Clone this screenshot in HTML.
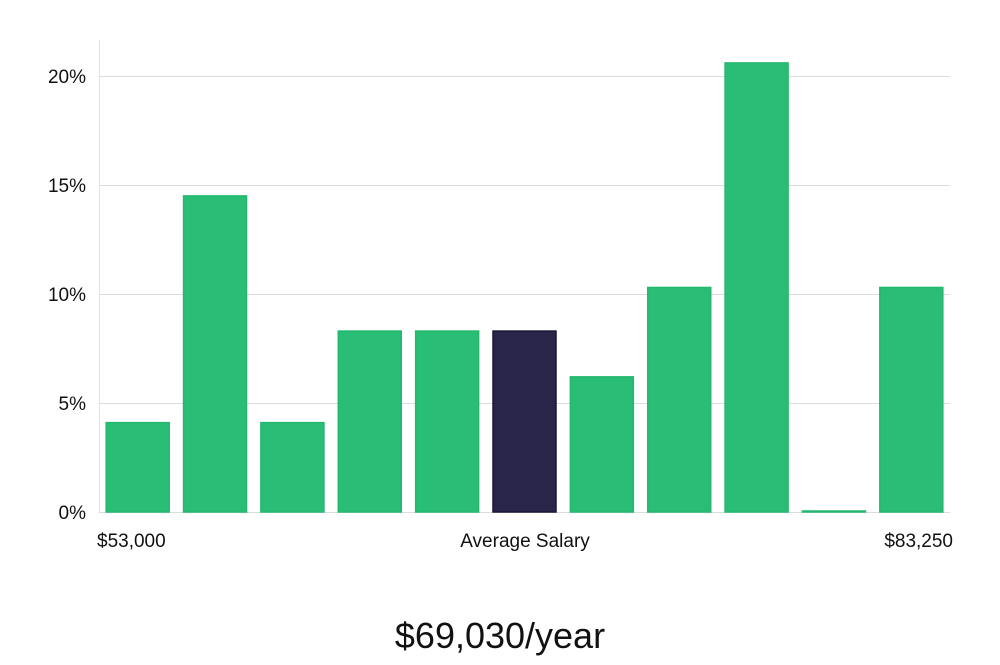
<!DOCTYPE html>
<html><head><meta charset="utf-8"><style>
body{margin:0;background:#fff;width:1000px;height:660px;overflow:hidden;font-family:"Liberation Sans","DejaVu Sans",sans-serif}
</style></head><body>
<svg width="1000" height="660" xmlns="http://www.w3.org/2000/svg">
<g id="grid"></g><g id="bars"></g><g id="labels"></g>
<line x1="99.5" y1="40" x2="99.5" y2="512" stroke="#e2e2e2"/>
<text x="97" y="547" font-size="19" fill="#111">$53,000</text>
<text x="525" y="547" font-size="19" fill="#111" text-anchor="middle">Average Salary</text>
<text x="953" y="547" font-size="19" fill="#111" text-anchor="end">$83,250</text>
<text x="500" y="648" font-size="36" fill="#111" text-anchor="middle">$69,030/year</text>
</svg>
<script>
const categories=["b1","b2","b3","b4","b5","b6","b7","b8","b9","b10","b11"];
const values=[4.1,14.5,4.1,8.3,8.3,8.3,6.2,10.3,20.6,0,10.3];
const highlight=[false,false,false,false,false,true,false,false,false,false,false];
const ticks=[0,5,10,15,20];
const tickLabels=["0%","5%","10%","15%","20%"];
const NS="http://www.w3.org/2000/svg";
const x0=99,x1=950,y0=512,yTop=76;
const y=v=>y0-(v/20)*(y0-yTop);
const slot=(x1-x0)/categories.length;
const g=document.getElementById('grid'),b=document.getElementById('bars'),l=document.getElementById('labels');
ticks.forEach((t,i)=>{
 const ln=document.createElementNS(NS,'line');
 
 
 ln.setAttribute('x1',x0);ln.setAttribute('x2',x1);ln.setAttribute('y1',y(t)+0.5);ln.setAttribute('y2',y(t)+0.5);
 ln.setAttribute('stroke','#dcdcdc');g.appendChild(ln);
 const tx=document.createElementNS(NS,'text');
 
 
 tx.setAttribute('x',86);tx.setAttribute('y',y(t)+7);tx.setAttribute('text-anchor','end');
 tx.setAttribute('font-size','19');tx.setAttribute('fill','#111');tx.textContent=tickLabels[i];l.appendChild(tx);
});
values.forEach((v,i)=>{
 const r=document.createElementNS(NS,'rect');
 
 
 const w=63,cx=x0+slot*(i+0.5);
 const top=y(v),h=Math.max(y0-top,1);
 r.setAttribute('x',cx-w/2);r.setAttribute('y',y0-h);r.setAttribute('width',w);r.setAttribute('height',h);
 r.setAttribute('fill',highlight[i]?'#29244a':'#29bd75');
 r.setAttribute('stroke',highlight[i]?'#1a1638':'#24b86e');r.setAttribute('stroke-width','1.5');
 b.appendChild(r);
});
</script>
</body></html>
